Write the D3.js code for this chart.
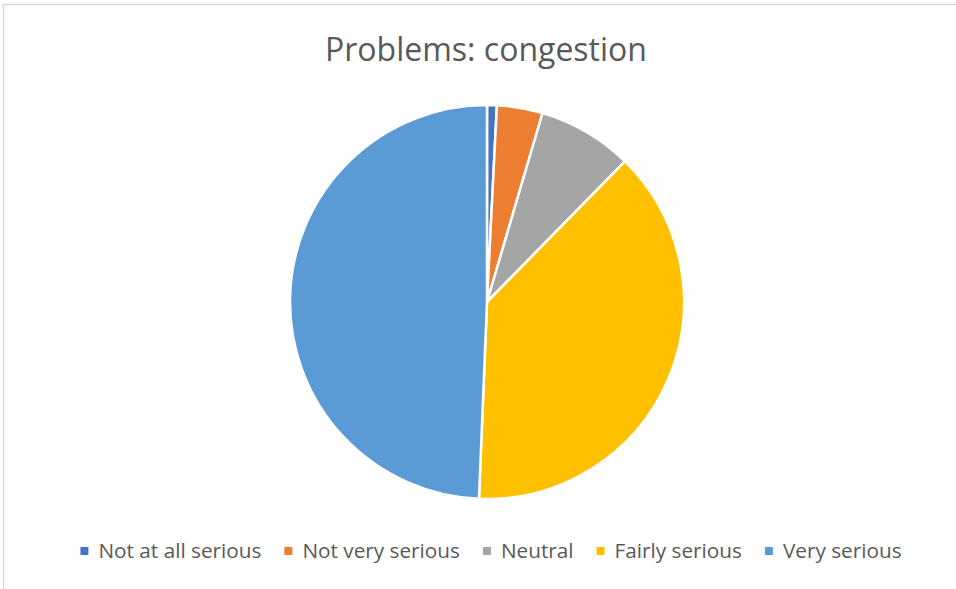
<!DOCTYPE html>
<html><head><meta charset="utf-8">
<script src="https://cdn.jsdelivr.net/npm/d3@7"></script>
<style>body{margin:0;background:#fff}svg{display:block}text{font-family:"Open Sans","Liberation Sans",sans-serif}</style>
</head><body>
<script>
const categories = ["Not at all serious","Not very serious","Neutral","Fairly serious","Very serious"];
const values = [0.8, 3.75, 7.8, 38.3, 49.35];
const colors = ["#4472C4","#ED7D31","#A5A5A5","#FFC000","#5B9BD5"];
const title = "Problems: congestion";

const W=956,H=589;
const svg=d3.select("body").append("svg").attr("width",W).attr("height",H);
svg.append("rect").attr("x",0).attr("y",0).attr("width",W).attr("height",H).attr("fill","#fff");
svg.append("line").attr("x1",3.5).attr("x2",W).attr("y1",4.5).attr("y2",4.5).attr("stroke","#d9d9d9").attr("stroke-width",1.5);
svg.append("line").attr("x1",3.5).attr("x2",3.5).attr("y1",4.5).attr("y2",H).attr("stroke","#d9d9d9").attr("stroke-width",1.5);

const tt=svg.append("text").attr("x",486).attr("y",61).attr("text-anchor","middle")
  .attr("font-size",27).attr("fill","#595959").text(title);
// fit to reference title width
const tw=tt.node().getComputedTextLength();
tt.attr("font-size",27*322/tw);

const cx=487, cy=302, r=197;
const pie=d3.pie().sort(null).value(d=>d)(values);
const arc=d3.arc().innerRadius(0).outerRadius(r);
const g=svg.append("g").attr("transform",`translate(${cx},${cy})`);
g.selectAll("path").data(pie).join("path").attr("d",arc)
  .attr("fill",(d,i)=>colors[i]).attr("stroke","#fff").attr("stroke-width",2.5).attr("stroke-linejoin","round");

// legend
const lg=svg.append("g");
const items=lg.selectAll("g").data(categories).join("g");
items.append("rect").attr("width",8).attr("height",8).attr("y",-11).attr("fill",(d,i)=>colors[i]);
const lt=items.append("text").attr("x",18).attr("y",0).attr("font-size",18).attr("fill","#595959").text(d=>d);
const w0=lt.nodes()[0].getComputedTextLength();
const fs=18*163/w0;
lt.attr("font-size",fs);
const gap=23;
let widths=[];
items.each(function(){widths.push(18+d3.select(this).select("text").node().getComputedTextLength());});
const total=d3.sum(widths)+gap*(widths.length-1);
let x=(78+904-total)/2;
items.attr("transform",(d,i)=>{const t=`translate(${x},558)`;x+=widths[i]+gap;return t;});
</script>
</body></html>
